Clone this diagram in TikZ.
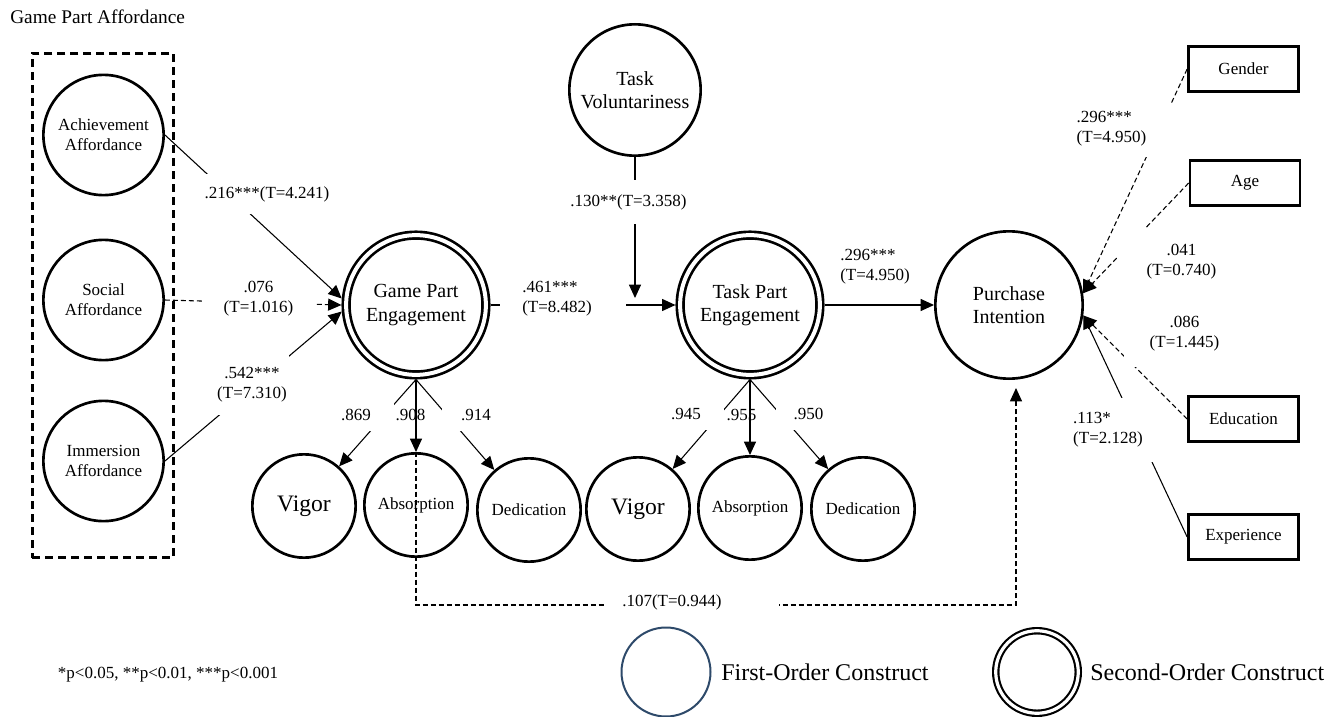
\documentclass[tikz,border=0pt]{standalone}
\usepackage{fontspec}
\setmainfont{Liberation Serif}
\usetikzlibrary{arrows.meta}
\definecolor{legblue}{HTML}{2E4A6A}
\begin{document}
\begin{tikzpicture}[x=0.75pt,y=-0.75pt,
  every node/.style={font=\fontsize{12.75}{15}\selectfont, inner sep=0pt},
  circ/.style={circle, draw, line width=2pt, inner sep=0pt, align=center},
  affc/.style={circ, minimum size=90.2pt, font=\fontsize{12.75}{15}\selectfont},
  bigc/.style={circ, font=\fontsize{15}{17.5}\selectfont},
  dblc/.style={circle, draw, double, line width=2pt, double distance=3pt, outer sep=3.5pt,
     minimum size=104.8pt, inner sep=0pt, align=center, font=\fontsize{15}{17.5}\selectfont},
  subc/.style={circ, minimum size=77.5pt, font=\fontsize{12.75}{15}\selectfont},
  vigc/.style={subc, font=\fontsize{17.7}{20}\selectfont},
  ctrl/.style={rectangle, draw, line width=2pt, minimum width=82.5pt, minimum height=33.75pt},
  conn/.style={line width=0.8pt, -{Triangle[length=10pt,width=9pt]}},
  dsh/.style={dash pattern=on 3.75pt off 2.25pt},
  lbl/.style={fill=white, align=center, font=\fontsize{12.75}{15}\selectfont}
]
\useasboundingbox (0,0) rectangle (1340,717);

% title and group frame
\node[anchor=west, font=\fontsize{14.5}{17}\selectfont] (title) at (10,17) {Game Part Affordance};
\node[draw, line width=2pt, dash pattern=on 6pt off 3.75pt, minimum width=106pt, minimum height=378.2pt] (grp) at (103,305.5) {};

% constructs
\node[affc] (ach) at (103.5,135) {Achievement\\Affordance};
\node[affc] (soc) at (103.5,300) {Social\\Affordance};
\node[affc] (imm) at (103.5,461) {Immersion\\Affordance};
\node[bigc, minimum size=98.5pt] (tv) at (635,90) {Task\\Voluntariness};
\node[dblc] (gpe) at (416,305) {Game Part\\Engagement};
\node[dblc] (tpe) at (750,305) {Task Part\\Engagement};
\node[bigc, minimum size=110.5pt] (pi) at (1009,305) {Purchase\\Intention};

\node[vigc] (vig1) at (304,506) {Vigor};
\node[subc] (abs1) at (416,505) {Absorption};
\node[subc] (ded1) at (529,510) {Dedication};
\node[vigc] (vig2) at (638,509) {Vigor};
\node[subc] (abs2) at (750,508) {Absorption};
\node[subc] (ded2) at (863,509) {Dedication};

\node[ctrl] (gen) at (1243.5,69) {Gender};
\node[ctrl] (age) at (1245,183) {Age};
\node[ctrl] (edu) at (1243.5,419) {Education};
\node[ctrl] (exp) at (1243.5,537) {Experience};

\coordinate (mod) at (635,298);
\coordinate (dl) at (416,605);
\coordinate (dr) at (1016,605);

% connectors
\draw[conn] (ach.east) -- (gpe.175);
\draw[conn, dsh] (soc.east) -- (gpe.west);
\draw[conn] (imm.east) -- (gpe.185);
\draw[conn] (gpe.east) -- (tpe.west);
\draw[conn] (tv.south) -- (mod);
\draw[conn] (tpe.east) -- (pi.west);

\draw[conn] (gpe.south) -- (vig1);
\draw[conn] (gpe.south) -- (abs1.north);
\draw[conn] (gpe.south) -- (ded1);
\draw[conn] (tpe.south) -- (vig2);
\draw[conn] (tpe.south) -- (abs2.north);
\draw[conn] (tpe.south) -- (ded2);

\draw[conn, dsh, shorten >=6pt] (gpe.south) -- (dl) -- (dr) -- (dr |- pi.south);

\draw[conn, dsh] (gen.west) -- (pi.9);
\draw[conn, dsh] (age.west) -- (pi.9);
\draw[conn, dsh] (edu.west) -- (pi.-8);
\draw[conn] (exp.west) -- (pi.-8);

% path labels
\node[lbl, inner xsep=1.5pt, inner ysep=9pt] (l216) at (267,194) {.216***(T=4.241)};
\node[lbl, inner xsep=16pt, inner ysep=1pt] (l076) at (258.5,299) {.076\\(T=1.016)};
\node[lbl, inner xsep=2pt, inner ysep=10pt] (l542) at (252,384.5) {.542***\\(T=7.310)};
\node[lbl, anchor=west, inner xsep=16.5pt, text width=61.5pt, align=left] (l461) at (500,298.5) {.461***\\(T=8.482)};
\node[anchor=west, align=left] (l296) at (840,266.5) {.296***\\(T=4.950)};
\node[lbl, inner xsep=1pt, inner ysep=10.5pt] (l130) at (628.5,202) {.130**(T=3.358)};

\node[lbl, inner xsep=17pt, inner ysep=8pt] (l869) at (356,415) {.869};
\node[lbl, inner xsep=14pt, inner ysep=8pt] (l914) at (476,415) {.914};
\node[lbl, inner xsep=17pt, inner ysep=8pt] (l945) at (686,414) {.945};
\node[lbl, inner xsep=13pt, inner ysep=8pt] (l950) at (808.5,414) {.950};
\node (l908) at (410.5,415) {.908};
\node (l955) at (741.5,415) {.955};

\node[lbl, anchor=west, inner xsep=13.5pt, text width=104pt, align=left] (l107) at (604,602) {.107(T=0.944)};

\node[lbl, align=left, inner xsep=18.75pt, inner ysep=8pt] (lg) at (1111.5,128.5) {.296***\\(T=4.950)};
\node[lbl, inner xsep=22.5pt, inner ysep=12pt] (la) at (1181.5,261.5) {.041\\(T=0.740)};
\node[lbl, inner xsep=19.5pt, inner ysep=12pt] (le) at (1184.5,333.5) {.086\\(T=1.445)};
\node[lbl, align=left, inner xsep=8.25pt, inner ysep=11.25pt] (lx) at (1108,430) {.113*\\(T=2.128)};

% footnote and legend
\node (note) at (168,675) {*p<0.05, **p<0.01, ***p<0.001};
\node[circle, draw=legblue, line width=1.5pt, minimum size=66.75pt] (lc1) at (666,672) {};
\node[anchor=west, font=\fontsize{18}{21}\selectfont] (lt1) at (721,672) {First-Order Construct};
\node[circle, draw, double, line width=1.6pt, double distance=2.4pt, minimum size=61.9pt] (lc2) at (1037,672) {};
\node[anchor=west, font=\fontsize{18}{21}\selectfont] (lt2) at (1090,672) {Second-Order Construct};
\end{tikzpicture}
\end{document}
